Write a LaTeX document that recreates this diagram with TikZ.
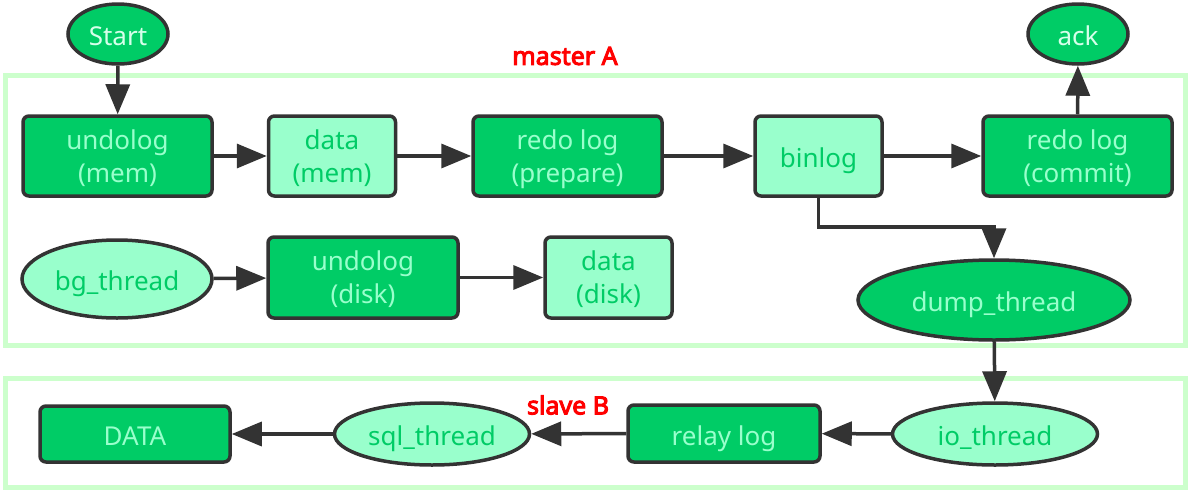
\documentclass[tikz,border=0pt]{standalone}
\usepackage{fontspec}
\setmainfont{Noto Sans}
\newfontfamily\lblfont{Noto Sans}[FakeBold=4]
\usetikzlibrary{arrows.meta,shapes.geometric}
\definecolor{dkg}{HTML}{00CC66}
\definecolor{ltg}{HTML}{99FFCC}
\definecolor{frm}{HTML}{CCFFCC}
\definecolor{edge}{HTML}{333333}
\definecolor{pale}{HTML}{D6FFEA}
\tikzset{
  base/.style={draw=edge, line width=3.5pt, inner sep=0pt, align=center,
    font=\fontsize{26}{33}\selectfont, text height=30pt, text depth=7pt},
  twoline/.style={text height=58pt, text depth=6pt},
  darkbox/.style={base, rounded corners=6pt, fill=dkg, text=ltg},
  lightbox/.style={base, rounded corners=6pt, fill=ltg, text=dkg},
  darkell/.style={base, ellipse, fill=dkg, text=ltg},
  lightell/.style={base, ellipse, fill=ltg, text=dkg},
  termell/.style={base, ellipse, fill=dkg, text=pale},
  frame/.style={draw=frm, line width=5pt},
  lbl/.style={text=red, font=\lblfont\fontsize{25}{28}\selectfont},
  arr/.style={draw=edge, line width=3.5pt, -{Triangle[length=30pt,width=24pt]}},
}
\begin{document}
\begin{tikzpicture}[x=1pt,y=-1pt]
\useasboundingbox (0,0) rectangle (1194,493);
% frames
\draw[frame] (5,75.5) rectangle (1185,345.5);
\draw[frame] (5,378.5) rectangle (1185,487.5);
\node[lbl] (masterA) at (565,56) {master A};
\node[lbl] (slaveB) at (568,405) {slave B};
% row 1
\node[termell, minimum width=100pt, minimum height=60pt] (start) at (118,34) {Start};
\node[termell, minimum width=100pt, minimum height=60pt] (ack) at (1078,34) {ack};
\node[darkbox, twoline, minimum width=189pt, minimum height=80pt] (undomem) at (117.5,156) {undolog\\(mem)};
\node[lightbox, twoline, minimum width=127pt, minimum height=80pt] (datamem) at (332,156) {data\\(mem)};
\node[darkbox, twoline, minimum width=189pt, minimum height=80pt] (redoprep) at (567.5,156) {redo log\\(prepare)};
\node[lightbox, minimum width=127pt, minimum height=80pt] (binlog) at (818.5,156) {binlog};
\node[darkbox, twoline, minimum width=189pt, minimum height=80pt] (redocommit) at (1077.5,156) {redo log\\(commit)};
% row 2
\node[lightell, minimum width=190pt, minimum height=78pt] (bg) at (117,279) {bg\_thread};
\node[darkbox, twoline, minimum width=190pt, minimum height=81pt] (undodisk) at (363,277.5) {undolog\\(disk)};
\node[lightbox, twoline, minimum width=127pt, minimum height=81pt] (datadisk) at (608.5,277.5) {data\\(disk)};
\node[darkell, minimum width=272pt, minimum height=80pt] (dump) at (994,300) {dump\_thread};
% row 3
\node[lightell, minimum width=205pt, minimum height=62pt] (io) at (995,434) {io\_thread};
\node[darkbox, minimum width=192pt, minimum height=57pt] (relay) at (724,433.5) {relay log};
\node[lightell, minimum width=195pt, minimum height=62pt] (sql) at (432,434) {sql\_thread};
\node[darkbox, minimum width=190pt, minimum height=56pt] (DATA) at (135,434) {DATA};
\coordinate (bend) at (994,227);
% connectors
\draw[arr] (start) -- (undomem);
\draw[arr] (undomem) -- (datamem);
\draw[arr] (datamem) -- (redoprep);
\draw[arr] (redoprep) -- (binlog);
\draw[arr] (binlog) -- (redocommit);
\draw[arr] (redocommit) -- (ack);
\draw[arr] (binlog.south) |- (bend) -- (dump.north);
\draw[arr] (bg) -- (undodisk);
\draw[arr] (undodisk) -- (datadisk);
\draw[arr] (dump) -- (io);
\draw[arr] (io) -- (relay);
\draw[arr] (relay) -- (sql);
\draw[arr] (sql) -- (DATA);
\end{tikzpicture}
\end{document}
